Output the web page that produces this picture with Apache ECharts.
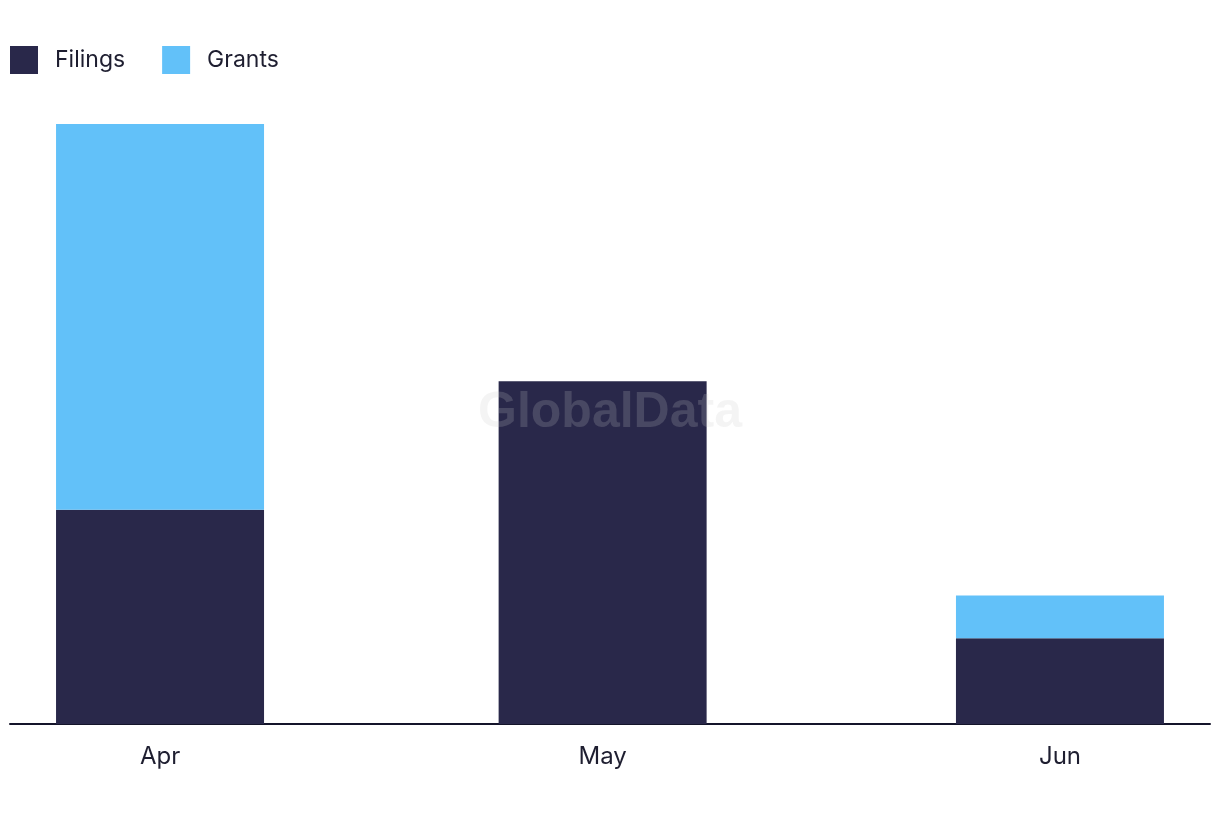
<!DOCTYPE html>
<html>
<head>
<meta charset="utf-8">
<script src="https://cdn.jsdelivr.net/npm/echarts@6/dist/echarts.min.js"></script>
<style>
html,body{margin:0;padding:0;background:#fff;}
#chart{width:1220px;height:822px;}
</style>
</head>
<body>
<div id="chart"></div>
<script>
// Data
var monthDates = ['2024-04-01', '2024-05-01', '2024-06-01'];
var monthLabels = ['Apr', 'May', 'Jun'];
var filings = [5, 8, 2];
var grants = [9, 0, 1];

var DAY = 86400000;
var dateTs = monthDates.map(function (d) { var p = d.split('-'); return new Date(+p[0], +p[1] - 1, +p[2]).getTime(); });

// Layout: axis spans 1200px; bars 208px wide. ECharts widens a time axis
// extent to fit bars, so pre-shrink the padding to compensate.
var AXIS_PX = 1200, BAR_W = 208;
var span = dateTs[dateTs.length - 1] - dateTs[0];
var targetRange = span + 2 * 10.17 * DAY;
var preRange = targetRange * (1 - BAR_W / AXIS_PX);
var pad = (preRange - span) / 2;

var chart = echarts.init(document.getElementById('chart'));
var fontFam = 'Inter, "Noto Sans", sans-serif';
chart.setOption({
  animation: false,
  backgroundColor: '#ffffff',
  legend: {
    left: 5, top: 41,
    itemWidth: 28, itemHeight: 28, itemGap: 37,
    icon: 'rect',
    textStyle: { fontFamily: fontFam, fontSize: 23, color: '#1e1e30', padding: [0, 0, 8, 12] },
    data: ['Filings', 'Grants']
  },
  grid: { left: 10, right: 10, top: 124, bottom: 98, containLabel: false },
  xAxis: {
    type: 'time',
    min: dateTs[0] - pad,
    max: dateTs[dateTs.length - 1] + pad,
    minInterval: 28 * DAY,
    maxInterval: 31 * DAY,
    axisLine: { show: true, lineStyle: { color: '#14142a', width: 2 } },
    axisTick: { show: false },
    splitLine: { show: false },
    axisLabel: {
      formatter: function (v) {
        var best = 0, bd = Infinity;
        dateTs.forEach(function (t, i) { var d = Math.abs(t - v); if (d < bd) { bd = d; best = i; } });
        return bd < 2 * DAY ? monthLabels[best] : '';
      },
      fontFamily: fontFam, fontSize: 24, color: '#1e1e30', margin: 21,
      hideOverlap: false
    }
  },
  yAxis: {
    type: 'value', min: 0, max: 14, show: false,
    splitLine: { show: false }
  },
  series: [
    {
      name: 'Filings', type: 'bar', stack: 'total', barWidth: BAR_W,
      itemStyle: { color: '#29284a' },
      data: dateTs.map(function (t, i) { return [t, filings[i]]; })
    },
    {
      name: 'Grants', type: 'bar', stack: 'total', barWidth: BAR_W,
      itemStyle: { color: '#62c1f9' },
      data: dateTs.map(function (t, i) { return [t, grants[i]]; })
    }
  ],
  graphic: [{
    type: 'text', left: 'center', top: 388, z: 100,
    style: {
      text: 'GlobalData', fill: 'rgba(200,200,200,0.2)',
      font: 'bold 50px "Liberation Sans", Arial, sans-serif'
    }
  }]
});
</script>
</body>
</html>
